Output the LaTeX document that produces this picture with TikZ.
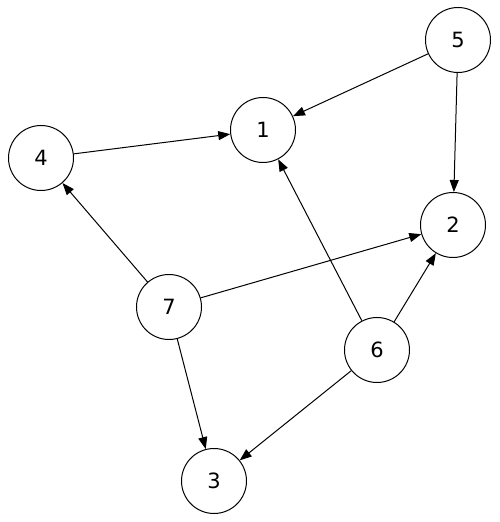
\documentclass[tikz,border=0pt]{standalone}
\usepackage{fontspec}
\setmainfont{DejaVu Sans}
\usetikzlibrary{arrows.meta}
\begin{document}
\begin{tikzpicture}[x=1pt,y=1pt,
  vert/.style={circle,draw,line width=1pt,minimum size=65pt,inner sep=0pt,font=\fontsize{21}{24}\selectfont},
  edge/.style={line width=1pt,-{Triangle[length=12pt,width=9pt]}}]
\useasboundingbox (0,0) rectangle (500,522);
\node[vert] (n5) at (458,482) {5};
\node[vert] (n1) at (263,392) {1};
\node[vert] (n4) at (41,364) {4};
\node[vert] (n2) at (453,297) {2};
\node[vert] (n7) at (169,215) {7};
\node[vert] (n6) at (377,172) {6};
\node[vert] (n3) at (214,41) {3};
\draw[edge] (n5) -- (n1);
\draw[edge] (n5) -- (n2);
\draw[edge] (n4) -- (n1);
\draw[edge] (n7) -- (n4);
\draw[edge] (n7) -- (n2);
\draw[edge] (n7) -- (n3);
\draw[edge] (n6) -- (n1);
\draw[edge] (n6) -- (n2);
\draw[edge] (n6) -- (n3);
\end{tikzpicture}
\end{document}
